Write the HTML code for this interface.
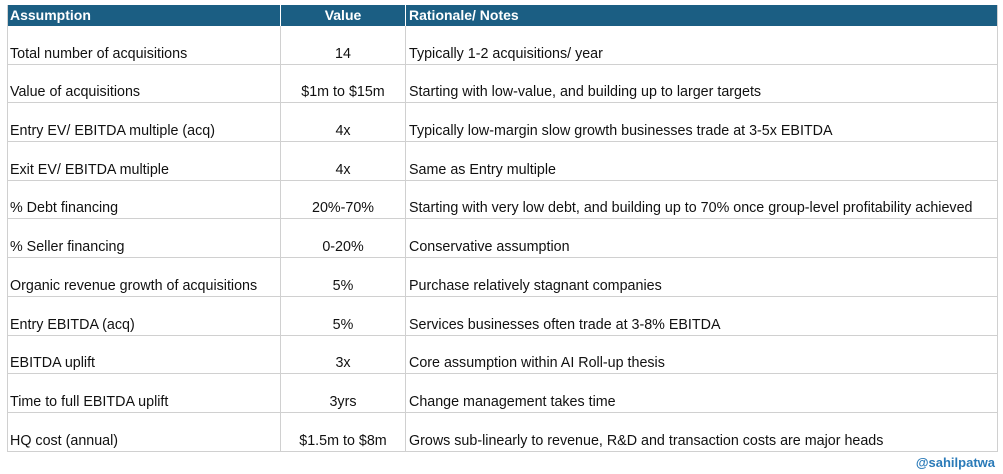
<!DOCTYPE html>
<html><head><meta charset="utf-8"><style>
body{margin:0;width:1003px;height:474px;background:#fff;font-family:"Liberation Sans",Arial,sans-serif;position:relative;overflow:hidden}
#tbl{position:absolute;left:7px;top:5px;width:989px;border-left:1px solid #d0d0d0;border-right:1px solid #d0d0d0}
.hdr{display:flex;height:21px;background:#1b5e83;color:#fff;font-weight:bold;font-size:14px;line-height:21px}
.row{display:flex;height:38.7px;border-bottom:1px solid #d0d0d0;box-sizing:border-box;font-size:14.3px;color:#111;align-items:flex-end}
.c1{width:273px;padding-left:2px;box-sizing:border-box;border-right:1px solid #d0d0d0;height:100%;display:flex;align-items:flex-end;padding-bottom:2px}
.c2{width:125px;text-align:center;border-right:1px solid #d0d0d0;height:100%;display:flex;align-items:flex-end;justify-content:center;padding-bottom:2px;box-sizing:border-box}
.c3{flex:1;padding-left:3px;height:100%;display:flex;align-items:flex-end;padding-bottom:2px;box-sizing:border-box;white-space:nowrap}
.hdr .c1,.hdr .c2,.hdr .c3{align-items:center;padding-bottom:0;border-right-color:#fff}
#credit{position:absolute;right:8px;top:455px;color:#2a7ab8;font-weight:bold;font-size:13px}
</style></head><body>
<div id="tbl">
<div class="hdr"><div class="c1">Assumption</div><div class="c2">Value</div><div class="c3">Rationale/ Notes</div></div>
<div class="row"><div class="c1">Total number of acquisitions</div><div class="c2">14</div><div class="c3">Typically 1-2 acquisitions/ year</div></div>
<div class="row"><div class="c1">Value of acquisitions</div><div class="c2">$1m to $15m</div><div class="c3">Starting with low-value, and building up to larger targets</div></div>
<div class="row"><div class="c1">Entry EV/ EBITDA multiple (acq)</div><div class="c2">4x</div><div class="c3">Typically low-margin slow growth businesses trade at 3-5x EBITDA</div></div>
<div class="row"><div class="c1">Exit EV/ EBITDA multiple</div><div class="c2">4x</div><div class="c3">Same as Entry multiple</div></div>
<div class="row"><div class="c1">% Debt financing</div><div class="c2">20%-70%</div><div class="c3">Starting with very low debt, and building up to 70% once group-level profitability achieved</div></div>
<div class="row"><div class="c1">% Seller financing</div><div class="c2">0-20%</div><div class="c3">Conservative assumption</div></div>
<div class="row"><div class="c1">Organic revenue growth of acquisitions</div><div class="c2">5%</div><div class="c3">Purchase relatively stagnant companies</div></div>
<div class="row"><div class="c1">Entry EBITDA (acq)</div><div class="c2">5%</div><div class="c3">Services businesses often trade at 3-8% EBITDA</div></div>
<div class="row"><div class="c1">EBITDA uplift</div><div class="c2">3x</div><div class="c3">Core assumption within AI Roll-up thesis</div></div>
<div class="row"><div class="c1">Time to full EBITDA uplift</div><div class="c2">3yrs</div><div class="c3">Change management takes time</div></div>
<div class="row"><div class="c1">HQ cost (annual)</div><div class="c2">$1.5m to $8m</div><div class="c3">Grows sub-linearly to revenue, R&amp;D and transaction costs are major heads</div></div>
</div>
<div id="credit">@sahilpatwa</div>
</body></html>
